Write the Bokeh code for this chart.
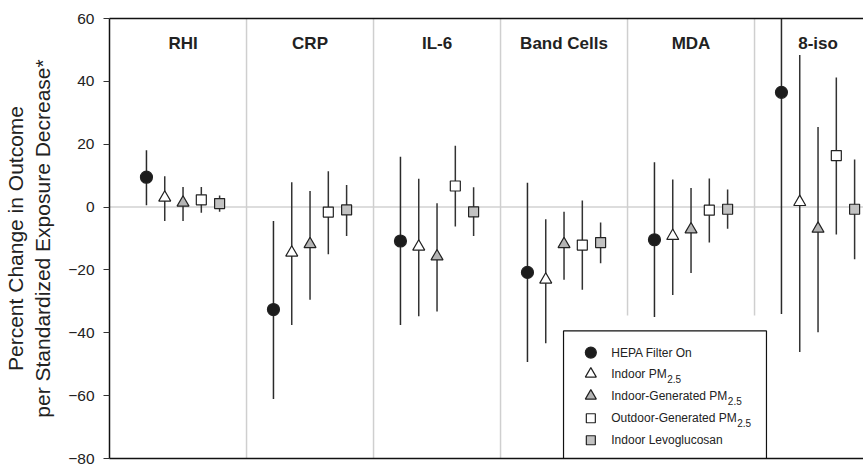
from bokeh.plotting import figure
from bokeh.models import Range1d, FixedTicker, LinearAxis, Span, ColumnDataSource
from bokeh.core.properties import value
from bokeh.embed import file_html
from bokeh.resources import INLINE

# ---------------- data ----------------
categories = ["RHI", "CRP", "IL-6", "Band Cells", "MDA", "8-iso"]
series_names = ["HEPA Filter On", "Indoor PM", "Indoor-Generated PM",
                "Outdoor-Generated PM", "Indoor Levoglucosan"]
series_subs = ["", "2.5", "2.5", "2.5", ""]

hepa_est = [9.5, -32.6, -10.8, -20.8, -10.4, 36.5]
hepa_lo = [0.6, -61.1, -37.5, -49.3, -35.0, -34.0]
hepa_hi = [18.1, -4.4, 16.0, 7.7, 14.3, 75.0]

indoor_est = [3.0, -14.5, -12.6, -23.1, -9.2, 1.6]
indoor_lo = [-4.4, -37.5, -34.7, -43.3, -28.0, -46.1]
indoor_hi = [9.8, 7.9, 9.0, -3.9, 8.8, 48.4]

ingen_est = [1.4, -11.8, -15.7, -11.8, -7.1, -6.9]
ingen_lo = [-4.4, -29.5, -33.2, -23.1, -21.0, -39.8]
ingen_hi = [6.4, 5.1, 1.2, -1.5, 6.1, 25.5]

outgen_est = [2.3, -1.6, 6.7, -12.1, -1.0, 16.4]
outgen_lo = [-1.8, -15.0, -6.2, -26.3, -11.3, -8.7]
outgen_hi = [6.4, 11.4, 19.5, 2.1, 9.1, 41.2]

levo_est = [1.1, -0.9, -1.5, -11.3, -0.7, -0.7]
levo_lo = [-1.5, -9.2, -9.2, -17.9, -6.9, -16.6]
levo_hi = [3.7, 7.0, 6.3, -4.9, 5.6, 15.1]

y_ticks = [-80, -60, -40, -20, 0, 20, 40, 60]

# ---------------- styles ----------------
FONT = value("Liberation Sans")
markers = ["circle", "triangle", "triangle", "square", "square"]
fills = ["#1c1c1c", "#ffffff", "#b4b4b4", "#ffffff", "#c2c2c2"]
sizes = [12, 12, 12, 10, 10]
offsets = [-0.288, -0.144, 0.0, 0.144, 0.288]
ests = [hepa_est, indoor_est, ingen_est, outgen_est, levo_est]
los = [hepa_lo, indoor_lo, ingen_lo, outgen_lo, levo_lo]
his = [hepa_hi, indoor_hi, ingen_hi, outgen_hi, levo_hi]

p = figure(width=863, height=467, output_backend="svg", toolbar_location=None,
           x_range=Range1d(-0.579, 5.358), y_range=Range1d(-80, 60),
           min_border_left=109, min_border_right=0, min_border_top=18,
           min_border_bottom=9, x_axis_location=None, y_axis_location="left")
p.outline_line_color = None
p.grid.visible = False
p.background_fill_color = "white"

# y axis
ya = p.yaxis[0]
ya.ticker = FixedTicker(ticks=y_ticks)
ya.minor_tick_line_color = None
ya.major_tick_in = 0
ya.major_tick_out = 6
ya.major_tick_line_color = "#333333"
ya.axis_line_color = "#111111"
ya.axis_line_width = 1.5
ya.major_label_text_font = "Liberation Sans"
ya.major_label_text_font_size = "15.5px"
ya.major_label_text_color = "#222222"
ya.major_label_standoff = 9
ya.axis_label = "Percent Change in Outcome\nper Standardized Exposure Decrease*"
ya.axis_label_text_font = "Liberation Sans"
ya.axis_label_text_font_size = "21px"
ya.axis_label_text_font_style = "normal"
ya.axis_label_text_color = "#222222"
ya.axis_label_standoff = 11

# top and bottom frame lines as tickless axes
for loc in ["below", "above"]:
    ax = LinearAxis(ticker=FixedTicker(ticks=[]), major_label_text_font_size="0px",
                    axis_line_color="#111111", axis_line_width=1.5,
                    major_tick_line_color=None, minor_tick_line_color=None)
    p.add_layout(ax, loc)

# zero line
p.add_layout(Span(location=0, dimension="width", line_color="#d2d2d2",
                  line_width=1.5, level="underlay"))

# group separators
sep_x = [0.5, 1.5, 2.5, 3.5, 4.5]
sep_bottom = [-80, -80, -80, -34.5, -34.5]
p.segment(x0=sep_x, y0=[60] * 5, x1=sep_x, y1=sep_bottom,
          line_color="#cfcfcf", line_width=1.5)

# group titles
p.text(x=list(range(len(categories))), y=[52.0] * len(categories), text=categories,
       text_font=FONT, text_font_size="17px", text_font_style="bold",
       text_color="#222222", text_align="center", text_baseline="middle")

# error bars and markers
for k in range(5):
    xs = [i + offsets[k] for i in range(len(categories))]
    src = ColumnDataSource(dict(x=xs, est=ests[k], lo=los[k], hi=his[k]))
    p.segment(x0="x", y0="lo", x1="x", y1="hi", source=src,
              line_color="#2a2a2a" if k == 0 else "#333333", line_width=1.5)
for k in range(5):
    xs = [i + offsets[k] for i in range(len(categories))]
    p.scatter(x=xs, y=ests[k], marker=markers[k], size=sizes[k],
              fill_color=fills[k], line_color="#222222", line_width=1.2)

# legend (drawn manually to allow subscripts)
leg_left, leg_right, leg_top, leg_bottom = 2.996, 4.594, -39.4, -80
p.quad(left=[leg_left], right=[leg_right], top=[leg_top], bottom=[leg_bottom],
       fill_color="white", line_color="#111111", line_width=1.2)
row_y = [-46.3, -53.1, -60.1, -67.2, -74.2]
mk_x = 3.211
tx_x = 3.372
for k in range(5):
    p.scatter(x=[mk_x], y=[row_y[k]], marker=markers[k], size=sizes[k] - 1,
              fill_color=fills[k], line_color="#222222", line_width=1.2)

W = {' ': 278, '-': 333, 'G': 778, 'I': 278, 'M': 833, 'O': 778, 'P': 667, 'a': 556,
     'd': 556, 'e': 556, 'n': 556, 'o': 556, 'r': 333, 't': 278, 'u': 556, 'H': 722,
     'E': 667, 'A': 667, 'F': 611, 'i': 222, 'l': 222, 'L': 556, 'v': 500, 'g': 556,
     'c': 500, 's': 500}
LEG_FS = 12.0
p.text(x=[tx_x] * 5, y=row_y, text=series_names, text_font=FONT,
       text_font_size="12px", text_color="#222222", text_align="left",
       text_baseline="middle")
sub_idx = [k for k in range(5) if series_subs[k]]
sub_off = [sum(W.get(c, 556) for c in series_names[k]) * LEG_FS / 1000.0 + 0.5
           for k in sub_idx]
p.text(x=[tx_x] * len(sub_idx), y=[row_y[k] for k in sub_idx],
       text=[series_subs[k] for k in sub_idx], x_offset=sub_off, y_offset=[5] * len(sub_idx),
       text_font=FONT, text_font_size="10px", text_color="#222222",
       text_align="left", text_baseline="middle")

open("out.html", "w").write(file_html(p, INLINE))
